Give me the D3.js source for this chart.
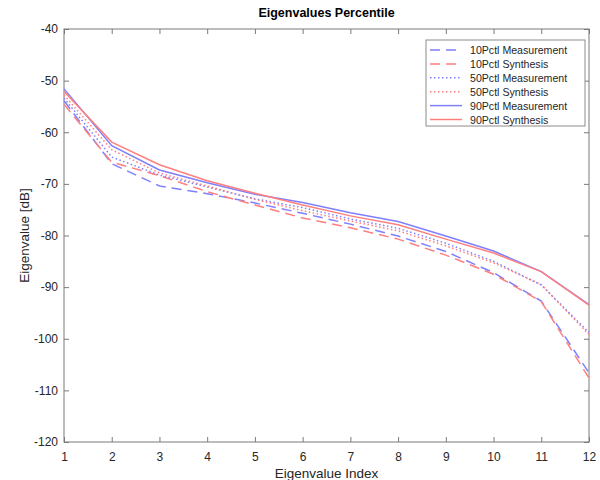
<!DOCTYPE html>
<html>
<head>
<meta charset="utf-8">
<script src="https://cdn.jsdelivr.net/npm/d3@7"></script>
<style>
  html, body { margin: 0; padding: 0; background: #fff; }
  svg { display: block; font-family: Helvetica, Arial, "Liberation Sans", sans-serif; }
</style>
</head>
<body>
<svg id="chart" width="600" height="480"></svg>
<script>
// Eigenvalue index along the x axis
const eigIndex = [1, 2, 3, 4, 5, 6, 7, 8, 9, 10, 11, 12];

// Percentile curves in dB
const meas10 = [-53.9, -66.1, -70.4, -71.9, -73.7, -75.7, -77.8, -80.1, -83.1, -87.2, -92.7, -106.6];
const synth10 = [-54.6, -65.8, -68.4, -71.5, -74.1, -76.6, -78.5, -80.7, -83.8, -87.5, -92.8, -107.6];
const meas50 = [-53.4, -64.8, -68.3, -70.6, -72.9, -74.6, -76.8, -78.6, -81.5, -85.0, -89.6, -98.8];
const synth50 = [-52.8, -63.4, -67.9, -70.4, -73.0, -75.2, -77.2, -79.1, -82.0, -85.3, -89.5, -99.2];
const meas90 = [-51.6, -62.6, -67.3, -69.8, -72.0, -73.6, -75.6, -77.3, -80.1, -83.0, -87.0, -93.4];
const synth90 = [-52.1, -61.9, -66.3, -69.4, -71.8, -74.1, -76.2, -77.9, -80.7, -83.4, -87.0, -93.5];

const seriesNames = ["10Pctl Measurement", "10Pctl Synthesis", "50Pctl Measurement",
                     "50Pctl Synthesis", "90Pctl Measurement", "90Pctl Synthesis"];
const yTicks = [-40, -50, -60, -70, -80, -90, -100, -110, -120];

const blue = "#7f7fff", red = "#ff7f7f";
const dashLong = "10,6", dotted = "1.5,2.5";
const series = [
  { name: seriesNames[0], values: meas10, color: blue, dash: dashLong },
  { name: seriesNames[1], values: synth10, color: red, dash: dashLong },
  { name: seriesNames[2], values: meas50, color: blue, dash: dotted },
  { name: seriesNames[3], values: synth50, color: red, dash: dotted },
  { name: seriesNames[4], values: meas90, color: blue, dash: null },
  { name: seriesNames[5], values: synth90, color: red, dash: null }
];

const svg = d3.select("#chart");
const plotL = 64, plotR = 589, plotT = 29, plotB = 442;
const textColor = "#262626", axisColor = "#7a7a7a";

const x = d3.scaleLinear().domain([1, 12]).range([plotL, plotR]);
const y = d3.scaleLinear().domain([-120, -40]).range([plotB, plotT]);

// Plain hyphen-minus tick labels
const plainNum = d => String(d);

// Plot frame
svg.append("rect")
  .attr("x", plotL).attr("y", plotT)
  .attr("width", plotR - plotL).attr("height", plotB - plotT)
  .attr("fill", "#fff").attr("stroke", axisColor).attr("stroke-width", 1);

// Axes with inward ticks on all four sides
const tickLen = 5;
const styleAxis = g => {
  g.select(".domain").remove();
  g.selectAll(".tick line").attr("stroke", axisColor);
  g.selectAll(".tick text").attr("fill", textColor).attr("font-size", 12);
};
svg.append("g").attr("transform", `translate(0,${plotB})`)
  .call(d3.axisBottom(x).tickValues(eigIndex).tickFormat(plainNum)
    .tickSizeInner(-tickLen).tickSizeOuter(0).tickPadding(10.5))
  .call(styleAxis);
svg.append("g").attr("transform", `translate(0,${plotT})`)
  .call(d3.axisTop(x).tickValues(eigIndex).tickFormat("")
    .tickSizeInner(-tickLen).tickSizeOuter(0))
  .call(styleAxis);
svg.append("g").attr("transform", `translate(${plotL},0)`)
  .call(d3.axisLeft(y).tickValues(yTicks).tickFormat(plainNum)
    .tickSizeInner(-tickLen).tickSizeOuter(0).tickPadding(6))
  .call(styleAxis);
svg.append("g").attr("transform", `translate(${plotR},0)`)
  .call(d3.axisRight(y).tickValues(yTicks).tickFormat("")
    .tickSizeInner(-tickLen).tickSizeOuter(0))
  .call(styleAxis);

// Curves
const line = d3.line().x((d, i) => x(eigIndex[i])).y(d => y(d));
series.forEach(s => {
  svg.append("path")
    .attr("d", line(s.values))
    .attr("fill", "none")
    .attr("stroke", s.color)
    .attr("stroke-width", 1.5)
    .attr("stroke-dasharray", s.dash);
});

// Title and axis labels
svg.append("text").attr("x", (plotL + plotR) / 2).attr("y", 17)
  .attr("text-anchor", "middle").attr("font-weight", "bold").attr("font-size", 12.5)
  .attr("fill", "#000").text("Eigenvalues Percentile");
svg.append("text").attr("x", (plotL + plotR) / 2).attr("y", 477.5)
  .attr("text-anchor", "middle").attr("font-size", 13.5)
  .attr("fill", textColor).text("Eigenvalue Index");
svg.append("text")
  .attr("transform", `translate(29,${(plotT + plotB) / 2}) rotate(-90)`)
  .attr("text-anchor", "middle").attr("font-size", 13.5)
  .attr("fill", textColor).text("Eigenvalue [dB]");

// Legend
const lg = svg.append("g");
lg.append("rect").attr("x", 426).attr("y", 40).attr("width", 159).attr("height", 86)
  .attr("fill", "#fff").attr("stroke", "#8c8c8c").attr("stroke-width", 1);
series.forEach((s, i) => {
  const ry = 50 + i * 13.9;
  lg.append("line").attr("x1", 430).attr("x2", 462).attr("y1", ry).attr("y2", ry)
    .attr("stroke", s.color).attr("stroke-width", 1.5).attr("stroke-dasharray", s.dash);
  lg.append("text").attr("x", 470).attr("y", ry + 4.3)
    .attr("font-size", 10.6).attr("fill", textColor).text(s.name);
});
</script>
</body>
</html>
